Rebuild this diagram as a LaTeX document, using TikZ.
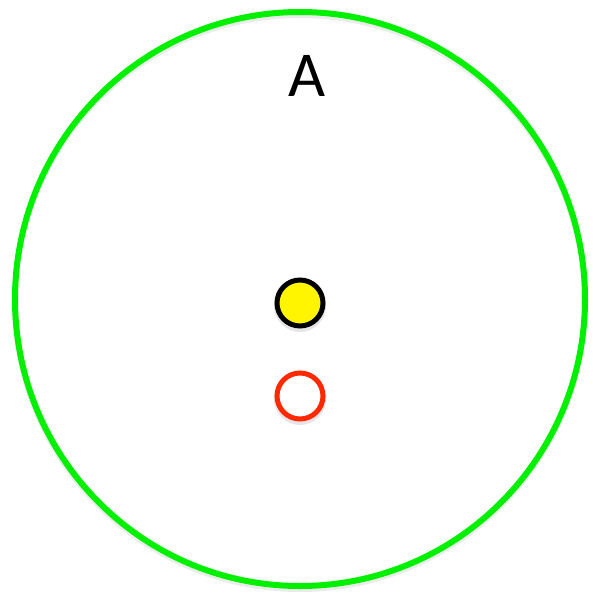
\documentclass[tikz,border=0pt]{standalone}
\usepackage{fontspec}
\setmainfont{Carlito}
\definecolor{ringgreen}{RGB}{0,240,0}
\definecolor{dotyellow}{RGB}{255,245,0}
\definecolor{ringred}{RGB}{255,40,0}
\begin{document}
\begin{tikzpicture}[x=1pt,y=-1pt,
  bigring/.style={draw=ringgreen,line width=6pt},
  yellowdot/.style={circle,draw=black,fill=dotyellow,line width=5pt,minimum size=46pt,inner sep=0pt},
  redring/.style={circle,draw=ringred,fill=white,line width=5pt,minimum size=46pt,inner sep=0pt}]
\useasboundingbox (0,0) rectangle (593,594);
% faint shadows
\draw[draw=black!8,line width=6pt] (300,302) ellipse [x radius=285, y radius=287];
\fill[black!10] (300,306) circle [radius=26];
\fill[black!10] (300,399) circle [radius=26];
% main shapes
\draw[bigring] (300,299) ellipse [x radius=285, y radius=287];
\node[font=\fontsize{64}{64}\selectfont] (lblA) at (307,76) {A};
\node[yellowdot] (dot) at (300,303) {};
\node[redring] (ring) at (300,396) {};
\end{tikzpicture}
\end{document}
